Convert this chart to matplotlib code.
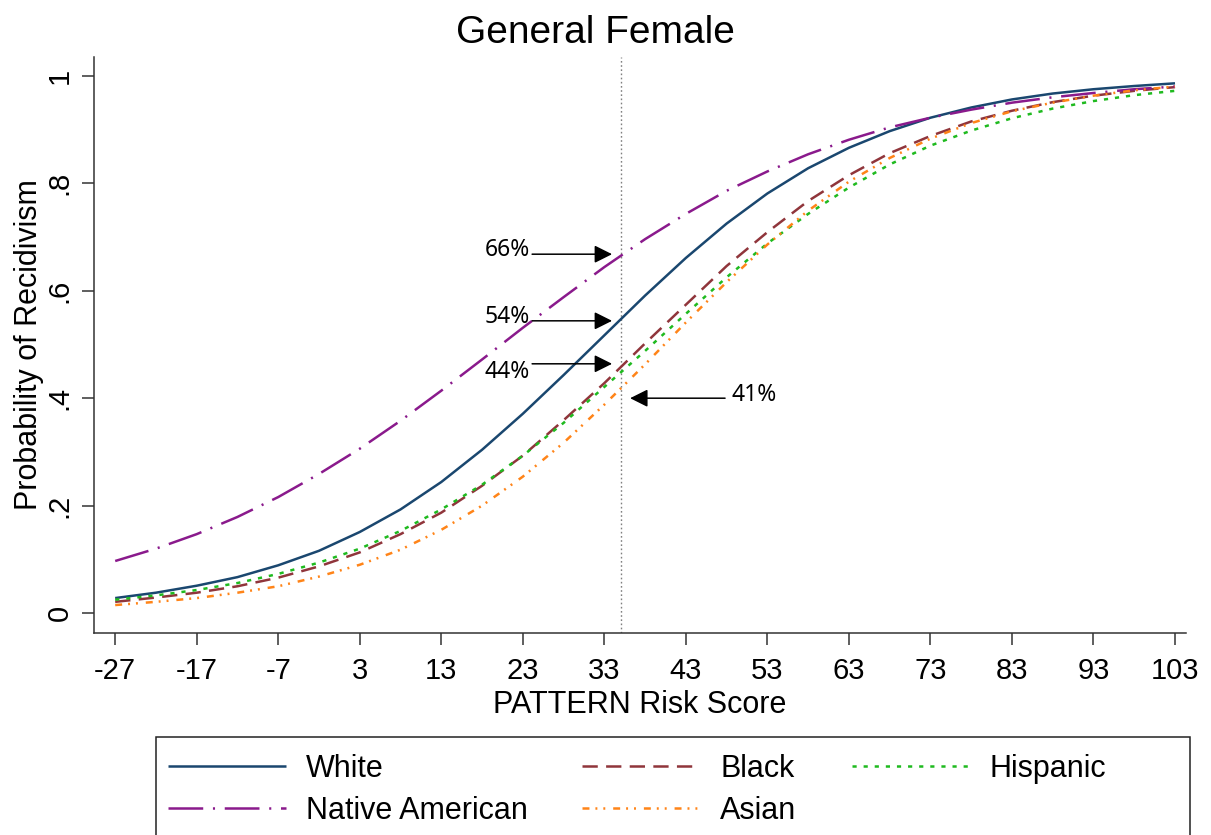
import matplotlib
matplotlib.use("Agg")
import matplotlib.pyplot as plt
from matplotlib.patches import Rectangle

# ---- data ----
risk_score = [-27, -22, -17, -12, -7, -2, 3, 8, 13, 18, 23, 28, 33, 38, 43,
              48, 53, 58, 63, 68, 73, 78, 83, 88, 93, 98, 103]
white = [0.028, 0.038, 0.051, 0.067, 0.089, 0.116, 0.151, 0.193, 0.244, 0.304,
         0.371, 0.443, 0.517, 0.591, 0.661, 0.725, 0.781, 0.828, 0.866, 0.897,
         0.922, 0.941, 0.956, 0.967, 0.975, 0.981, 0.986]
black = [0.021, 0.029, 0.038, 0.050, 0.066, 0.087, 0.113, 0.147, 0.187, 0.237,
         0.293, 0.359, 0.428, 0.502, 0.574, 0.646, 0.709, 0.767, 0.815, 0.856,
         0.888, 0.915, 0.935, 0.951, 0.963, 0.972, 0.979]
hispanic = [0.025, 0.033, 0.043, 0.056, 0.073, 0.094, 0.120, 0.153, 0.193, 0.239,
            0.293, 0.354, 0.421, 0.488, 0.557, 0.625, 0.688, 0.743, 0.792, 0.835,
            0.870, 0.898, 0.921, 0.939, 0.953, 0.964, 0.972]
native_american = [0.097, 0.120, 0.147, 0.179, 0.216, 0.259, 0.306, 0.358, 0.414,
                   0.472, 0.531, 0.588, 0.644, 0.696, 0.743, 0.786, 0.822, 0.854,
                   0.881, 0.904, 0.922, 0.937, 0.950, 0.960, 0.968, 0.975, 0.980]
asian = [0.015, 0.021, 0.028, 0.038, 0.050, 0.068, 0.090, 0.118, 0.155, 0.200,
         0.254, 0.317, 0.388, 0.463, 0.541, 0.616, 0.686, 0.749, 0.803, 0.847,
         0.883, 0.912, 0.934, 0.950, 0.963, 0.973, 0.980]

x_ticks = [-27, -17, -7, 3, 13, 23, 33, 43, 53, 63, 73, 83, 93, 103]
y_ticks = [0, 0.2, 0.4, 0.6, 0.8, 1.0]
y_ticklabels = ["0", ".2", ".4", ".6", ".8", "1"]
cutoff_score = 35
annotations = [("66%", 0.668), ("54%", 0.544), ("44%", 0.464)]
annotation_right = ("41%", 0.400)

# ---- style ----
plt.rcParams["font.family"] = ["Liberation Sans", "DejaVu Sans"]
plt.rcParams["lines.scale_dashes"] = False

fig = plt.figure(figsize=(12.11, 8.35), dpi=100)
W, H = 1211, 835
ax = fig.add_axes([94 / W, 1 - 633 / H, (1186 - 94) / W, (633 - 57) / H])

lw = 1.8
ax.plot(risk_score, white, color="#1a476f", lw=lw, label="White", solid_capstyle="butt")
ax.plot(risk_score, black, color="#90353b", lw=lw, dashes=(11, 6), label="Black")
ax.plot(risk_score, hispanic, color="#1fba1f", lw=lw, dashes=(3, 5), label="Hispanic")
ax.plot(risk_score, native_american, color="#8a1a8c", lw=lw,
        dashes=(25, 7, 1.5, 7), label="Native American")
ax.plot(risk_score, asian, color="#ff8418", lw=lw,
        dashes=(5, 4.3, 1.4, 4.3, 1.4, 5.7), label="Asian")

ax.axvline(cutoff_score, color="#808080", lw=1.0, dashes=(1.2, 1.8), zorder=1)

ax.set_xlim(-29.6, 104.35)
ax.set_ylim(-0.037, 1.035)
ax.set_xticks(x_ticks)
ax.set_xticklabels([str(t) for t in x_ticks])
ax.set_yticks(y_ticks)
ax.set_yticklabels(y_ticklabels, rotation=90, va="center")

for side in ["top", "right"]:
    ax.spines[side].set_visible(False)
for side in ["left", "bottom"]:
    ax.spines[side].set_color("#333333")
    ax.spines[side].set_linewidth(1.1)

ax.tick_params(axis="both", direction="out", length=8.6, width=1.1,
               color="#333333", labelsize=21)
ax.tick_params(axis="x", pad=9)
ax.tick_params(axis="y", pad=6)

ax.set_xlabel("PATTERN Risk Score", fontsize=22)
ax.xaxis.set_label_coords(0.5, -(690 - 633) / 576)
ax.set_ylabel("Probability of Recidivism", fontsize=22)
ax.yaxis.set_label_coords(-(94 - 44) / 1092, 0.5)

fig.text(595 / W, 1 - 43 / H, "General Female", fontsize=28,
         ha="center", va="baseline")

# ---- annotations ----
head = dict(arrowstyle="-|>,head_length=10.8,head_width=5.4", color="black",
            lw=1.1, mutation_scale=1, shrinkA=0, shrinkB=0)
for label, yv in annotations:
    ax.annotate("", xy=(33.95, yv), xytext=(24.14, yv), arrowprops=head)
    ax.text(23.9, yv + (0.008 if label != "44%" else -0.015), label,
            family=["Noto Sans", "DejaVu Sans"], fontsize=16.5,
            ha="right", va="center")
lab, yv = annotation_right
ax.annotate("", xy=(36.16, yv), xytext=(47.81, yv), arrowprops=head)
ax.text(48.55, yv + 0.006, lab, family=["Noto Sans", "DejaVu Sans"],
        fontsize=16.5, ha="left", va="center")

# ---- legend ----
handles, labels = ax.get_legend_handles_labels()
order = ["White", "Native American", "Black", "Asian", "Hispanic"]
hmap = dict(zip(labels, handles))
leg = fig.legend([hmap[k] for k in order], order, ncol=3, loc="upper left",
                 bbox_to_anchor=(151 / W, 1 - 737 / H), frameon=False,
                 fontsize=22, handlelength=3.86, handletextpad=0.65,
                 columnspacing=1.8, labelspacing=0.4, borderpad=0.55,
                 borderaxespad=0)
fig.patches.append(Rectangle((156 / W, -0.05), (1190 - 156) / W,
                             (835 - 737) / H + 0.05, transform=fig.transFigure,
                             fill=False, edgecolor="#222222", lw=1.1))

fig.savefig("out.png", dpi=100)
